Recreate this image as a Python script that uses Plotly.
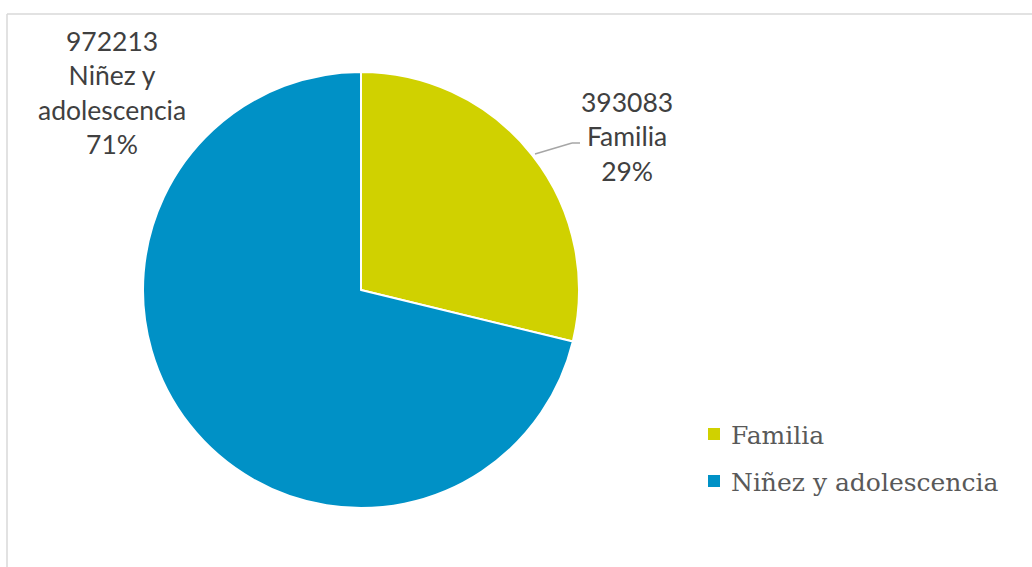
import plotly.graph_objects as go

labels = ["Familia", "Niñez y adolescencia"]
values = [393083, 972213]
colors = ["#D0D100", "#0091C6"]
label_lines = ["Familia", "Niñez y<br>adolescencia"]

W, H = 1032, 567
cx, cy, r = 361, 290, 218

total = sum(values)
pcts = [round(v / total * 100) for v in values]

fig = go.Figure(go.Pie(
    labels=labels, values=values, sort=False, direction="clockwise", rotation=0,
    marker=dict(colors=colors, line=dict(color="white", width=2)),
    textinfo="none", hoverinfo="label+value+percent", showlegend=False,
    domain=dict(x=[(cx - r) / W, (cx + r) / W], y=[(H - cy - r) / H, (H - cy + r) / H]),
))


def px(x):
    return x / W


def py(y):
    return 1 - y / H


lab_pos = [(627, 136), (112, 92)]
for i in range(len(values)):
    x, y = lab_pos[i]
    fig.add_annotation(
        x=px(x), y=py(y), xref="paper", yref="paper",
        text=f"{values[i]}<br>{label_lines[i]}<br>{pcts[i]}%",
        showarrow=False, align="center", xanchor="center", yanchor="middle",
        font=dict(family="Lato", size=26.5, color="#404040"),
    )

# leader line
pts = [(535, 154), (572, 143), (580, 143)]
for (x0, y0), (x1, y1) in zip(pts[:-1], pts[1:]):
    fig.add_shape(type="line", xref="paper", yref="paper",
                  x0=px(x0), y0=py(y0), x1=px(x1), y1=py(y1),
                  line=dict(color="#A6A6A6", width=1.5))

# legend (drawn manually to match spacing)
leg_y = [434, 481]
for i, name in enumerate(labels):
    y = leg_y[i]
    fig.add_shape(type="rect", xref="paper", yref="paper",
                  x0=px(708), x1=px(720), y0=py(y - 6), y1=py(y + 6),
                  fillcolor=colors[i], line=dict(width=0))
    fig.add_annotation(x=px(729), y=py(y + 1), xref="paper", yref="paper",
                       text=name, showarrow=False, xanchor="left", yanchor="middle",
                       font=dict(family="DejaVu Serif", size=25, color="#595959"))

# chart border
fig.add_shape(type="line", xref="paper", yref="paper", x0=px(7), y0=py(14), x1=1.01, y1=py(14),
              line=dict(color="#D9D9D9", width=1.5))
fig.add_shape(type="line", xref="paper", yref="paper", x0=px(7), y0=py(14), x1=px(7), y1=-0.01,
              line=dict(color="#D9D9D9", width=1.5))

fig.update_layout(
    width=W, height=H, margin=dict(l=0, r=0, t=0, b=0),
    paper_bgcolor="white", plot_bgcolor="white",
    showlegend=False,
)

fig.write_html("out.html", config={"displayModeBar": False},
               post_script="document.body.style.margin='0';")
